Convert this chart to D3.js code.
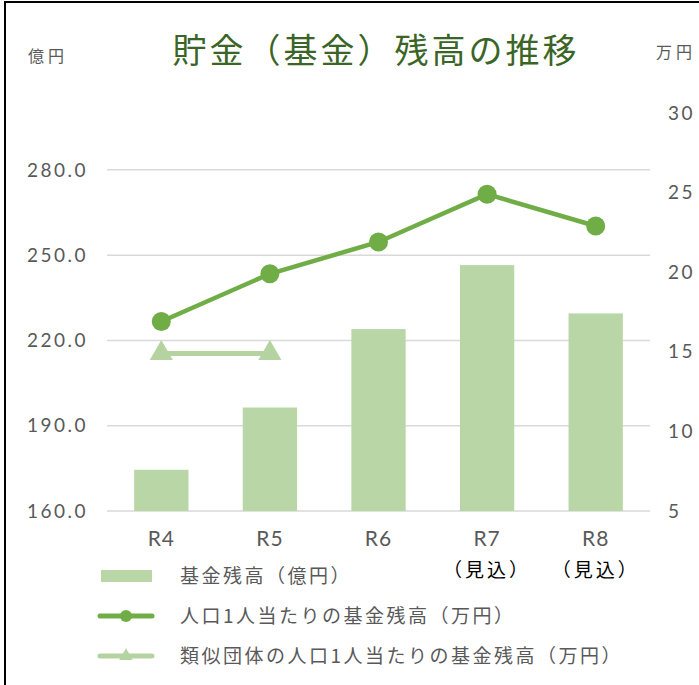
<!DOCTYPE html>
<html>
<head>
<meta charset="utf-8">
<script src="https://cdn.jsdelivr.net/npm/d3@7"></script>
<style>
  body { margin: 0; background: #fff; }
  svg text { font-family: "Noto Sans CJK JP", "Noto Sans", sans-serif; }
</style>
</head>
<body>
<script>
// data
const years = ["R4", "R5", "R6", "R7", "R8"]
const yearNotes = ["", "", "", "（見込）", "（見込）"]
const fundBalance = [174.5, 196.4, 224.0, 246.5, 229.5]      // 億円
const perCapita = [16.9, 19.9, 21.9, 24.9, 22.9]             // 万円
const similarPerCapita = [14.9, 14.9, null, null, null]      // 万円
const leftTicks = [160, 190, 220, 250, 280]
const rightTicks = [5, 10, 15, 20, 25, 30]

const width = 699, height = 685
const plot = { left: 107, right: 650, top: 113, bottom: 511 }

const barColor = "#b9d7a6"
const lineColor = "#70ad47"
const simColor = "#b5d3a1"
const textColor = "#595959"
const numFont = "Lato, 'DejaVu Sans', sans-serif"

const svg = d3.select("body").append("svg")
    .attr("width", width)
    .attr("height", height)

// frame (only left and top edges show in the picture)
svg.append("line").attr("x1", 5).attr("x2", 5).attr("y1", 2).attr("y2", height)
    .style("stroke", "#000").style("stroke-width", 2)
svg.append("line").attr("x1", 4).attr("x2", width).attr("y1", 2).attr("y2", 2)
    .style("stroke", "#000").style("stroke-width", 2)

const x = d3.scaleBand()
    .domain(years)
    .range([plot.left, plot.right])
    .paddingInner(0.5)
    .paddingOuter(0.25)

const yLeft = d3.scaleLinear().domain([160, 300]).range([plot.bottom, plot.top])
const yRight = d3.scaleLinear().domain([5, 30]).range([plot.bottom, plot.top])

// gridlines
svg.append("g").selectAll("line")
    .data(leftTicks)
    .join("line")
    .attr("x1", plot.left).attr("x2", plot.right)
    .attr("y1", d => yLeft(d)).attr("y2", d => yLeft(d))
    .style("stroke", "#d9d9d9")
    .style("stroke-width", 1.5)

// left axis labels
svg.append("g").selectAll("text")
    .data(leftTicks)
    .join("text")
    .attr("x", 88)
    .attr("y", d => yLeft(d))
    .attr("dy", "0.35em")
    .attr("text-anchor", "end")
    .style("font-family", numFont)
    .style("font-size", "19px")
    .style("letter-spacing", "2.5px")
    .style("fill", textColor)
    .text(d => d3.format(".1f")(d))

// right axis labels (Excel spacing, not on the gridlines)
svg.append("g").selectAll("text")
    .data(rightTicks)
    .join("text")
    .attr("x", 668)
    .attr("y", d => yRight(d))
    .attr("dy", "0.35em")
    .style("font-family", numFont)
    .style("font-size", "19px")
    .style("letter-spacing", "2.5px")
    .style("fill", textColor)
    .text(d => d)

// unit labels
svg.append("text").attr("x", 28).attr("y", 62)
    .style("font-size", "16px").style("letter-spacing", "4px")
    .style("fill", textColor).text("億円")
svg.append("text").attr("x", 656).attr("y", 58)
    .style("font-size", "16px").style("letter-spacing", "4px")
    .style("fill", textColor).text("万円")

// title
svg.append("text")
    .attr("x", 376).attr("y", 63)
    .attr("text-anchor", "middle")
    .style("font-size", "34px")
    .style("letter-spacing", "3px")
    .style("fill", "#3b6526")
    .text("貯金（基金）残高の推移")

// bars
svg.append("g").selectAll("rect")
    .data(years)
    .join("rect")
    .attr("x", d => x(d))
    .attr("width", x.bandwidth())
    .attr("y", (d, i) => yLeft(fundBalance[i]))
    .attr("height", (d, i) => yLeft(160) - yLeft(fundBalance[i]))
    .style("fill", barColor)

// x labels
const cx = d => x(d) + x.bandwidth() / 2
svg.append("g").selectAll("text")
    .data(years)
    .join("text")
    .attr("x", d => cx(d))
    .attr("y", 546)
    .attr("text-anchor", "middle")
    .style("font-family", numFont)
    .style("font-size", "21px")
    .style("letter-spacing", "1px")
    .style("fill", textColor)
    .text(d => d)
svg.append("g").selectAll("text")
    .data(years.filter((d, i) => yearNotes[i]))
    .join("text")
    .attr("x", d => cx(d))
    .attr("y", 577)
    .attr("text-anchor", "middle")
    .style("font-size", "19px")
    .style("letter-spacing", "3px")
    .style("fill", "#000")
    .text(d => yearNotes[years.indexOf(d)])

// similar group line
const simPts = years.map((d, i) => [cx(d), similarPerCapita[i]]).filter(p => p[1] != null)
const lineFn = d3.line().x(p => p[0]).y(p => yRight(p[1]))
svg.append("path")
    .attr("d", lineFn(simPts))
    .style("fill", "none")
    .style("stroke", simColor)
    .style("stroke-width", 5)
svg.append("g").selectAll("path")
    .data(simPts)
    .join("path")
    .attr("transform", p => `translate(${p[0]},${yRight(p[1])})`)
    .attr("d", d3.symbol().type(d3.symbolTriangle).size(230))
    .style("fill", simColor)

// per-capita line
const pcPts = years.map((d, i) => [cx(d), perCapita[i]])
svg.append("path")
    .attr("d", lineFn(pcPts))
    .style("fill", "none")
    .style("stroke", lineColor)
    .style("stroke-width", 4.5)
svg.append("g").selectAll("circle")
    .data(pcPts)
    .join("circle")
    .attr("cx", p => p[0])
    .attr("cy", p => yRight(p[1]))
    .attr("r", 9.5)
    .style("fill", lineColor)

// legend
const legend = svg.append("g")
const legendItems = ["基金残高（億円）", "人口1人当たりの基金残高（万円）", "類似団体の人口1人当たりの基金残高（万円）"]
const legendY = [576, 616, 656]
legend.append("rect").attr("x", 101).attr("y", legendY[0] - 6).attr("width", 51).attr("height", 12)
    .style("fill", barColor)
legend.append("line").attr("x1", 100).attr("x2", 152).attr("y1", legendY[1]).attr("y2", legendY[1])
    .style("stroke", lineColor).style("stroke-width", 5).style("stroke-linecap", "round")
legend.append("circle").attr("cx", 126).attr("cy", legendY[1]).attr("r", 6).style("fill", lineColor)
legend.append("line").attr("x1", 100).attr("x2", 152).attr("y1", legendY[2]).attr("y2", legendY[2])
    .style("stroke", simColor).style("stroke-width", 5).style("stroke-linecap", "round")
legend.append("path").attr("transform", `translate(126,${legendY[2]})`)
    .attr("d", d3.symbol().type(d3.symbolTriangle).size(80))
    .style("fill", simColor)
legend.selectAll("text")
    .data(legendItems)
    .join("text")
    .attr("x", 180)
    .attr("y", (d, i) => legendY[i])
    .attr("dy", "0.35em")
    .style("font-size", "19px")
    .style("letter-spacing", "2.5px")
    .style("fill", textColor)
    .text(d => d)
</script>
</body>
</html>
